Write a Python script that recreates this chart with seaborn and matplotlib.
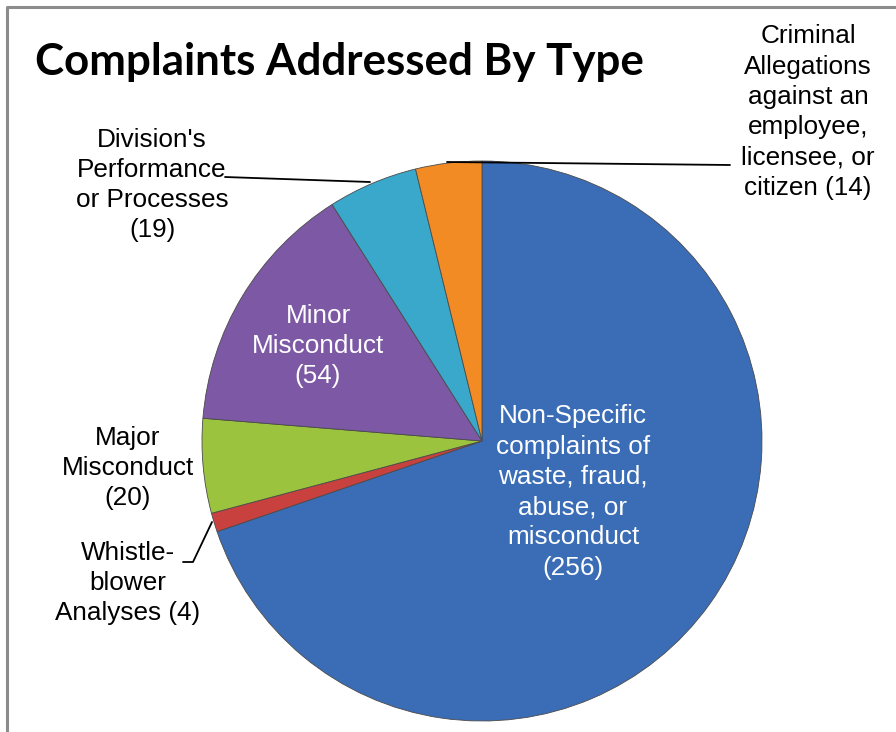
import matplotlib
matplotlib.use("Agg")
import matplotlib.pyplot as plt
import seaborn as sns

# ---- data ----
categories = [
    "Non-Specific\ncomplaints of\nwaste, fraud,\nabuse, or\nmisconduct",
    "Whistle-\nblower\nAnalyses",
    "Major\nMisconduct",
    "Minor\nMisconduct",
    "Division's\nPerformance\nor Processes",
    "Criminal\nAllegations\nagainst an\nemployee,\nlicensee, or\ncitizen",
]
counts = [256, 4, 20, 54, 19, 14]
colors = ["#3A6DB6", "#C8413F", "#9CC33E", "#7C58A5", "#39A8CA", "#F38B25"]
title = "Complaints Addressed By Type"

sns.set_style("white")
plt.rcParams["font.family"] = ["Liberation Sans", "DejaVu Sans"]

W, H = 896, 732
fig = plt.figure(figsize=(W / 100, H / 100), dpi=100)
ax = fig.add_axes([0, 0, 1, 1])
ax.set_xlim(0, W)
ax.set_ylim(0, H)
ax.axis("off")

def Y(py):
    return H - py

cx, cy, r = 482, 441, 280
wedges, _ = ax.pie(counts, colors=colors, startangle=90, counterclock=False,
                   center=(cx, Y(cy)), radius=r,
                   wedgeprops=dict(edgecolor="#4a4a4a", linewidth=0.6))
ax.set_xlim(0, W)
ax.set_ylim(0, H)
ax.set_aspect("equal")

# frame
ax.plot([7, 7, W], [0, Y(7), Y(7)], color="#8C8C8C", lw=2.2, solid_capstyle="butt")

# title
ax.text(35, Y(62), title, fontsize=31.6, fontweight="bold", family=["Lato", "DejaVu Sans"],
        ha="left", va="center", color="black")

fs = 18.8
ls = 1.33
def lab(i, x, py, color="black"):
    txt = categories[i] + f" ({counts[i]})" if i in (1, 5) else categories[i] + f"\n({counts[i]})"
    ax.text(x, Y(py), txt, fontsize=fs, ha="center", va="center", color=color,
            linespacing=ls, multialignment="center")

lab(0, 573, 492, "white")
lab(1, 128, 583)
lab(2, 128, 468)
lab(3, 318, 346, "white")
lab(4, 152, 185)
lab(5, 808, 112)

# leader lines
ax.plot([447, 730], [Y(162), Y(165)], color="black", lw=1.3)
ax.plot([225, 370], [Y(177), Y(182)], color="black", lw=1.3)
ax.plot([183, 193, 212], [Y(562), Y(562), Y(522)], color="black", lw=1.3)

fig.savefig("out.png", dpi=100)
